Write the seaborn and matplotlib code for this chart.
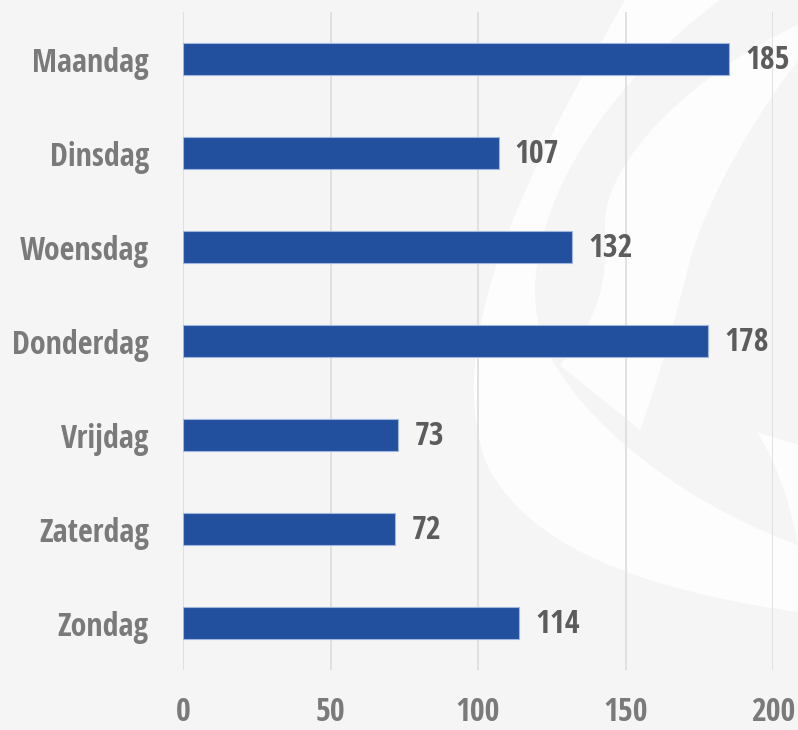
import numpy as np
import pandas as pd
import matplotlib
matplotlib.use('Agg')
import matplotlib.pyplot as plt
from matplotlib import font_manager
from matplotlib.patches import PathPatch
from matplotlib.path import Path
import seaborn as sns

days = ['Maandag', 'Dinsdag', 'Woensdag', 'Donderdag', 'Vrijdag', 'Zaterdag', 'Zondag']
counts = [185, 107, 132, 178, 73, 72, 114]
x_ticks = [0, 50, 100, 150, 200]

BAR_COLOR = '#234f9f'
BG = '#f5f5f5'

# pick a condensed font if one is around
names = {f.name for f in font_manager.fontManager.ttflist}
stretch = 'normal'
family = 'Open Sans'
for cand in ['Open Sans Condensed', 'Roboto Condensed', 'Liberation Sans Narrow']:
    if cand in names:
        family = cand
        break
else:
    cond = [f for f in font_manager.fontManager.ttflist
            if f.name == 'DejaVu Sans' and 'ondensed' in f.fname]
    if cond:
        family = 'DejaVu Sans'
        stretch = 'condensed'

sns.set_theme(style='white')
plt.rcParams['font.family'] = [family, 'DejaVu Sans']

df = pd.DataFrame({'day': days, 'count': counts})

fig = plt.figure(figsize=(7.98, 7.30), dpi=100)
fig.patch.set_facecolor(BG)

# faint white logo shapes in the background (pixel coords, y down)
bg = fig.add_axes([0, 0, 1, 1], zorder=0)
bg.set_xlim(0, 798)
bg.set_ylim(730, 0)
bg.axis('off')
M, C, L, Z = Path.MOVETO, Path.CURVE4, Path.LINETO, Path.CLOSEPOLY

crescent = Path([(625, 0),
                 (540, 150), (440, 330), (485, 460),
                 (530, 560), (680, 595), (798, 612),
                 (798, 545),
                 (700, 510), (600, 440), (555, 365),
                 (500, 280), (560, 120), (720, 0),
                 (625, 0)],
                [M, C, C, C, C, C, C, L, C, C, C, C, C, C, Z])
bg.add_patch(PathPatch(crescent, facecolor='white', edgecolor='none', alpha=0.9))

band = Path([(798, 25),
             (700, 70), (600, 160), (605, 230),
             (610, 290), (590, 330), (560, 365),
             (640, 430),
             (665, 360), (680, 300), (690, 260),
             (710, 190), (760, 110), (798, 60),
             (798, 25)],
            [M, C, C, C, C, C, C, L, C, C, C, C, C, C, Z])
bg.add_patch(PathPatch(band, facecolor='white', edgecolor='none', alpha=0.9))

wedge = Path([(757, 432),
              (775, 438), (790, 442), (798, 445),
              (798, 545),
              (790, 500), (775, 460), (757, 432),
              (757, 432)],
             [M, C, C, C, L, C, C, C, Z])
bg.add_patch(PathPatch(wedge, facecolor='white', edgecolor='none', alpha=0.9))

ax = fig.add_axes([183 / 798, 60 / 730, 590 / 798, 658 / 730], zorder=1)
ax.set_facecolor('none')

sns.barplot(data=df, x='count', y='day', orient='h', color=BAR_COLOR, saturation=1,
            width=0.35, edgecolor='#9fb6de', linewidth=0.8, ax=ax)

ax.set_xlim(0, 200)
ax.set_ylim(6.5, -0.5)
ax.set_xticks(x_ticks)
ax.grid(axis='x', color='#dcdcdc', linewidth=1.2)
ax.set_axisbelow(True)
for s in ax.spines.values():
    s.set_visible(False)
ax.set_xlabel('')
ax.set_ylabel('')
ax.tick_params(axis='both', length=0)
ax.tick_params(axis='x', pad=19)
ax.tick_params(axis='y', pad=24.5)
for lab in ax.get_xticklabels() + ax.get_yticklabels():
    lab.set_fontsize(23)
    lab.set_fontweight('bold')
    lab.set_fontstretch(stretch)
    lab.set_color('#7a7a7a')

for i, v in enumerate(counts):
    ax.text(v + 5.5, i + 0.02, str(v), va='center', ha='left', fontsize=23, fontweight='bold',
            fontstretch=stretch, color='#5c5c5c', clip_on=False)

fig.savefig('out.png', dpi=100, facecolor=BG)
